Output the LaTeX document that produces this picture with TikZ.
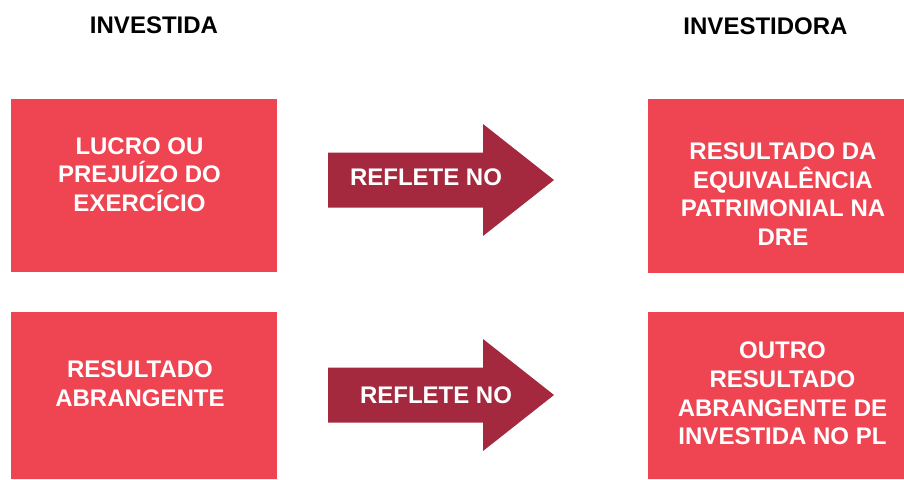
\documentclass[tikz,border=0pt]{standalone}
\usepackage{fontspec}
\setmainfont{Liberation Sans}
\definecolor{boxred}{RGB}{239,68,82}
\definecolor{arrowred}{RGB}{164,41,62}

\begin{document}
\begin{tikzpicture}[x=0.75pt,y=-0.75pt,
		txt/.style={font=\bfseries\fontsize{18}{21.5}\selectfont,align=center,inner sep=0pt},
		boxtxt/.style={txt,text=white},
		arrowtxt/.style={txt,text=white}]
			\useasboundingbox (0,0) rectangle (904,479);
			% column titles
			\node[txt] (investida) at (154,25.5) {INVESTIDA};
			\node[txt] (investidora) at (765.5,26) {INVESTIDORA};
			% boxes
			\fill[boxred] (11,99) rectangle (277,272);
			\fill[boxred] (648,99) rectangle (904,273);
			\fill[boxred] (11,312) rectangle (277,479);
			\fill[boxred] (648,312) rectangle (904,479);
			% arrows
			\fill[arrowred] (328,152.5) -- (483,152.5) -- (483,124) -- (554,180) -- (483,236) -- (483,207.5) -- (328,207.5) -- cycle;
			\fill[arrowred] (328,367.5) -- (483,367.5) -- (483,339) -- (554,395) -- (483,451) -- (483,422.5) -- (328,422.5) -- cycle;
			\node[arrowtxt] (reflete1) at (426,177) {REFLETE NO};
			\node[arrowtxt] (reflete2) at (436,395) {REFLETE NO};
			% texts
			\node[boxtxt] (lucro) at (139.5,174.5) {LUCRO OU\\PREJUÍZO DO\\EXERCÍCIO};
			\node[boxtxt] (mep) at (783,194) {RESULTADO DA\\EQUIVALÊNCIA\\PATRIMONIAL NA\\DRE};
			\node[boxtxt] (abrangente) at (140,384) {RESULTADO\\ABRANGENTE};
			\node[boxtxt] (outro) at (782.5,393.5) {OUTRO\\RESULTADO\\ABRANGENTE DE\\INVESTIDA NO PL};
		\end{tikzpicture}
\end{document}
